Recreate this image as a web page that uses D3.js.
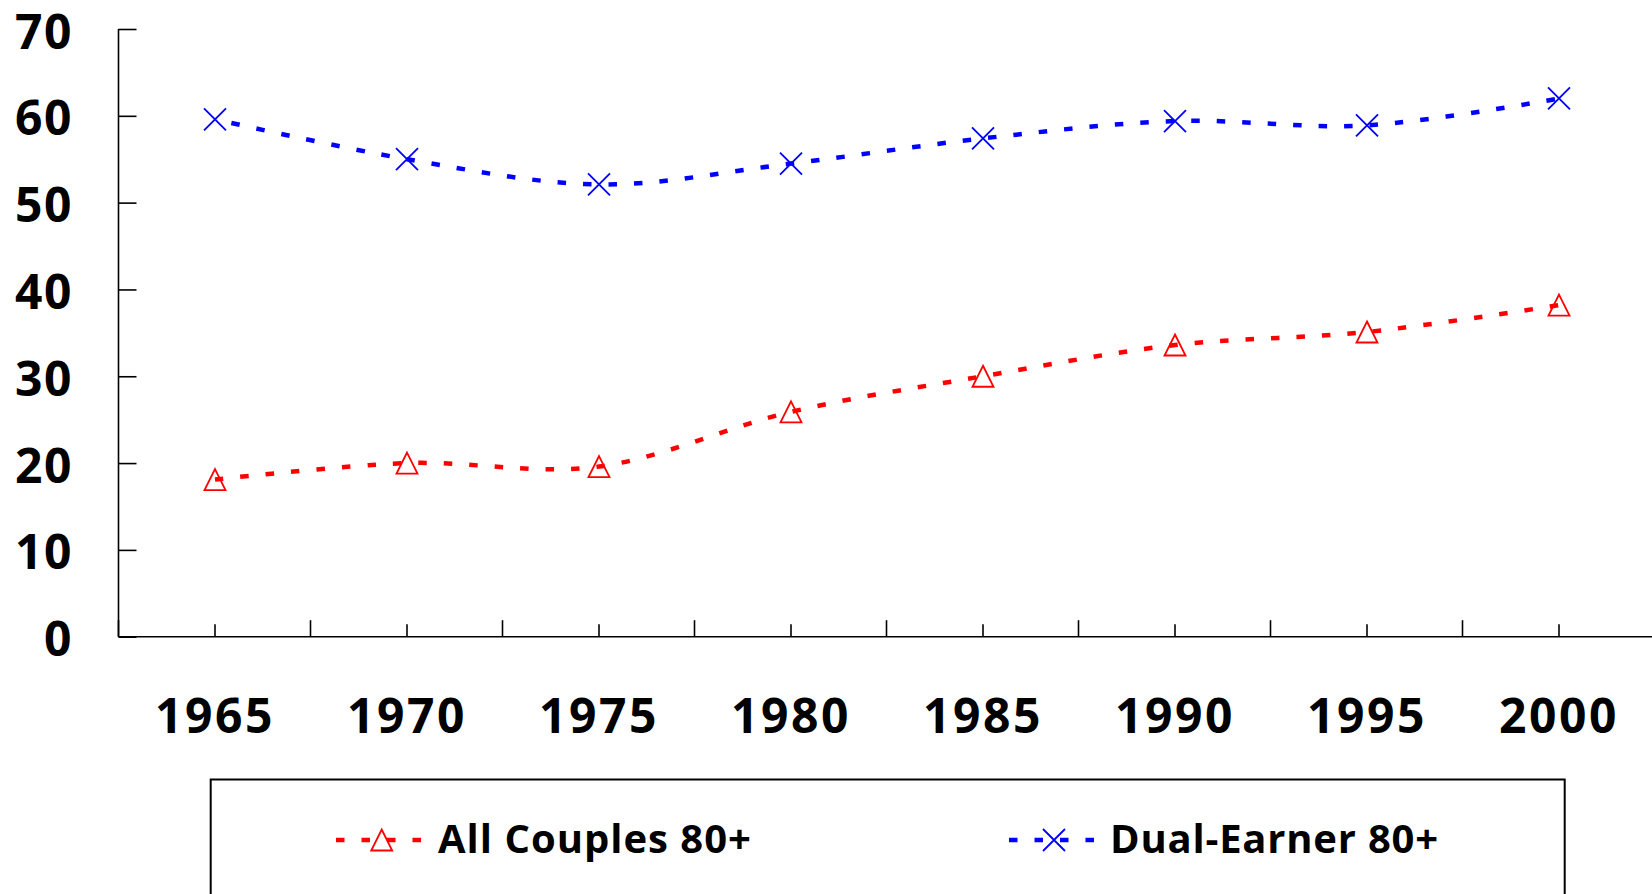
<!DOCTYPE html>
<html>
<head>
<meta charset="utf-8">
<script src="https://cdn.jsdelivr.net/npm/d3@7"></script>
<style>
  html, body { margin: 0; padding: 0; background: #fff; }
  svg { display: block; }
  text { font-family: "Open Sans", sans-serif; font-weight: 700; fill: #000; }
</style>
</head>
<body>
<svg id="chart" width="1652" height="894"></svg>
<script>
const years = ["1965", "1970", "1975", "1980", "1985", "1990", "1995", "2000"];
const allCouples = [18.1, 20.0, 19.6, 25.9, 30.0, 33.6, 35.1, 38.2];
const dualEarner = [59.6, 55.0, 52.1, 54.5, 57.4, 59.4, 58.9, 62.0];
const yTicks = [0, 10, 20, 30, 40, 50, 60, 70];
const seriesNames = ["All Couples 80+", "Dual-Earner 80+"];
const seriesColors = ["#FF0000", "#0000FF"];

(function () {
const svg = d3.select("#chart");
const W = 1652, H = 894;
svg.append("rect").attr("width", W).attr("height", H).attr("fill", "#fff");

const plotLeft = 118.5, plotBottom = 636.7, plotTop = 29;
const x = d3.scaleBand().domain(years).range([plotLeft + 0.5, plotLeft + 0.5 + 192 * 8]).padding(0);
const cx = d => x(d) + x.bandwidth() / 2;
const y = d3.scaleLinear().domain([0, 70]).range([plotBottom, plotTop]);

// Y axis
const gy = svg.append("g").attr("transform", `translate(${plotLeft},0)`);
const yAxis = d3.axisRight(y).tickValues(yTicks).tickSize(18).tickFormat("");
gy.call(yAxis);
gy.select(".domain").attr("d", `M0,${plotTop}V${plotBottom}`).attr("stroke", "#000").attr("stroke-width", 1.6);
gy.selectAll(".tick line").attr("stroke", "#000").attr("stroke-width", 1.6);

svg.append("g").selectAll("text").data(yTicks).join("text")
  .attr("x", 73).attr("y", d => y(d) + 19.5)
  .attr("text-anchor", "end")
  .attr("font-size", 48)
  .attr("letter-spacing", 1.5)
  .text(d => d);

// X axis
const gx = svg.append("g").attr("transform", `translate(0,${plotBottom})`);
gx.append("line").attr("x1", plotLeft).attr("x2", W).attr("y1", 0).attr("y2", 0)
  .attr("stroke", "#000").attr("stroke-width", 1.6);
gx.selectAll("line.ct").data(years).join("line").attr("class", "ct")
  .attr("x1", d => cx(d)).attr("x2", d => cx(d)).attr("y1", 0).attr("y2", -12.5)
  .attr("stroke", "#000").attr("stroke-width", 1.6);
const bounds = d3.range(years.length + 1).map(i => x.range()[0] + i * x.bandwidth());
gx.selectAll("line.bt").data(bounds).join("line").attr("class", "bt")
  .attr("x1", d => d - 0.5).attr("x2", d => d - 0.5).attr("y1", 0).attr("y2", -16.5)
  .attr("stroke", "#000").attr("stroke-width", 1.6);

svg.append("g").selectAll("text").data(years).join("text")
  .attr("x", d => cx(d)).attr("y", 733)
  .attr("text-anchor", "middle")
  .attr("font-size", 48)
  .attr("letter-spacing", 2.5)
  .text(d => d);

// Lines
const line = d3.line().x(d => cx(d.year)).y(d => y(d.v)).curve(d3.curveCatmullRom.alpha(0));
const series = [allCouples, dualEarner].map(arr => arr.map((v, j) => ({ year: years[j], v })));
const offsets = [0, 8.5];

series.forEach((s, i) => {
  svg.append("path").datum(s)
    .attr("d", line)
    .attr("fill", "none")
    .attr("stroke", seriesColors[i])
    .attr("stroke-width", 4.5)
    .attr("stroke-dasharray", "8.5,17")
    .attr("stroke-dashoffset", offsets[i]);
});

const triPath = "M0,-10.5L10.5,10.5L-10.5,10.5Z";
const xPath = "M-11,-11L11,11M11,-11L-11,11";
const markerPaths = [triPath, xPath];

series.forEach((s, i) => {
  svg.append("g").selectAll("path").data(s).join("path")
    .attr("transform", d => `translate(${cx(d.year)},${y(d.v)})`)
    .attr("d", markerPaths[i])
    .attr("fill", "none")
    .attr("stroke", seriesColors[i])
    .attr("stroke-width", 1.8);
});

// Legend
svg.append("rect")
  .attr("x", 210.7).attr("y", 779.5).attr("width", 1354).attr("height", 200)
  .attr("fill", "none").attr("stroke", "#000").attr("stroke-width", 2);

const legendItems = [
  { name: seriesNames[0], color: seriesColors[0], marker: triPath, x1: 336, x2: 422, mx: 381.7, tx: 438, ls: 1.0 },
  { name: seriesNames[1], color: seriesColors[1], marker: xPath, x1: 1009, x2: 1095, mx: 1054, tx: 1110, ls: 0.8 }
];
const lg = svg.append("g");
legendItems.forEach(it => {
  lg.append("line").attr("x1", it.x1).attr("x2", it.x2).attr("y1", 840).attr("y2", 840)
    .attr("stroke", it.color).attr("stroke-width", 4.5).attr("stroke-dasharray", "8.5,17");
  lg.append("path").attr("transform", `translate(${it.mx},840)`).attr("d", it.marker)
    .attr("fill", "none").attr("stroke", it.color).attr("stroke-width", 1.8);
  lg.append("text").attr("x", it.tx).attr("y", 853.3).attr("font-size", 40)
    .attr("letter-spacing", it.ls).text(it.name);
});
})();
</script>
</body>
</html>
